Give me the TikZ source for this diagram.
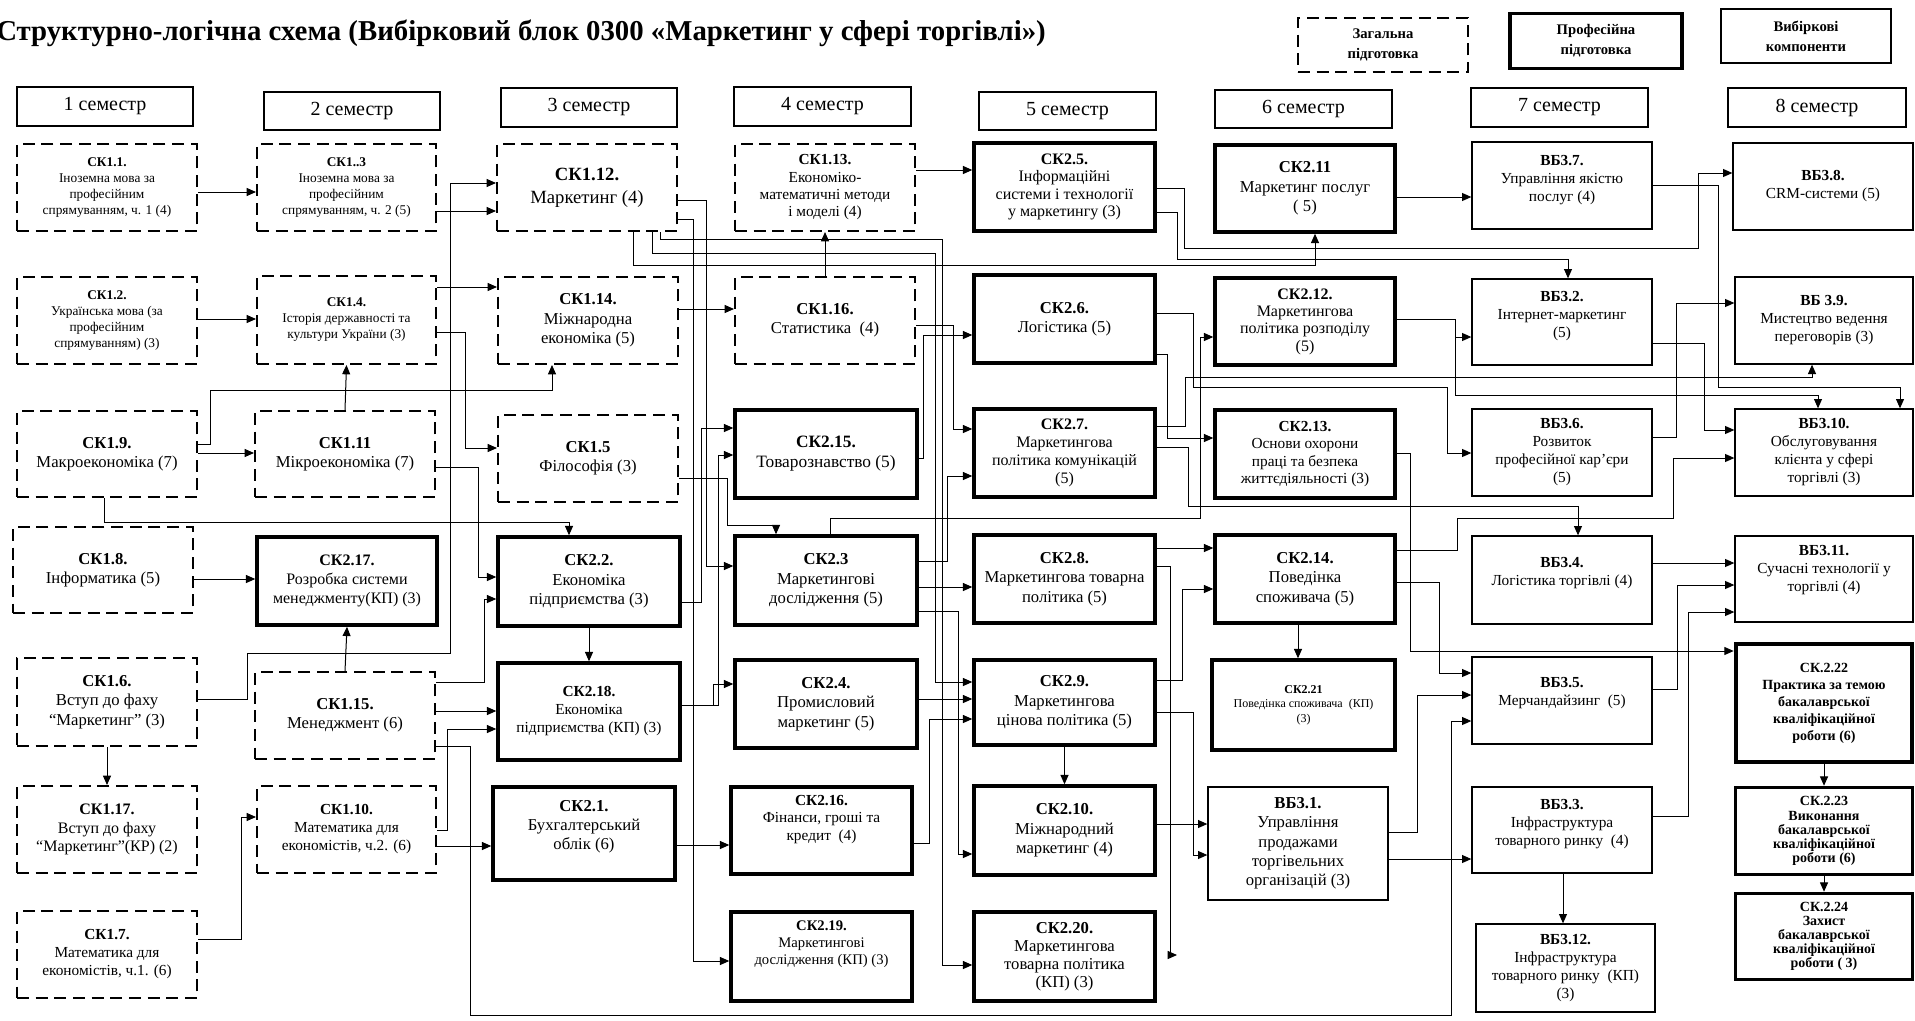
\documentclass[tikz,border=0pt]{standalone}
\usepackage{fontspec}
\setmainfont{Liberation Serif}
\usepackage{tikz}
\usetikzlibrary{arrows.meta}
\newcommand{\boxfont}[2]{\fontsize{#1}{#2}\selectfont}
\tikzset{
  gen/.style={draw, line width=1.5pt, dash pattern=on 9pt off 5pt, align=center, inner sep=0pt},  % general training
  prof/.style={draw, line width=2.6pt, align=center, inner sep=0pt},                              % professional training
  elect/.style={draw, line width=1pt, align=center, inner sep=0pt},                               % elective components
  sem/.style={draw, line width=0.9pt, inner sep=0pt, font=\boxfont{15}{17}},
  sz/.style 2 args={minimum width=#1*0.75pt, minimum height=#2*0.75pt},
  up/.style={text depth=#1},
  arr/.style={-{Triangle[length=7pt,width=6pt]}, line width=0.75pt},
}
\begin{document}
\begin{tikzpicture}[x=0.75pt,y=-0.75pt]
\useasboundingbox (0,0) rectangle (1915,1020);
\fill[white] (0,0) rectangle (1915,1020);

\node[anchor=west, inner sep=0pt, font=\boxfont{21.6}{25}\bfseries] (title) at (-4,33) {Структурно-логічна схема (Вибірковий блок 0300 «Маркетинг у сфері торгівлі»)};
\node[gen, sz={170}{54}, font=\boxfont{11}{15}\bfseries] (lgen) at (1383,45) {Загальна\\підготовка};
\node[prof, sz={172}{55}, font=\boxfont{11}{15}\bfseries] (lprof) at (1596,41) {Професійна\\підготовка};
\node[elect, sz={170}{54}, font=\boxfont{11}{15}\bfseries] (lsel) at (1806,36) {Вибіркові\\компоненти};

\node[sem, sz={176}{39}] (sem1) at (105,106.5) {1 семестр};
\node[sem, sz={176}{38}] (sem2) at (352,111) {2 семестр};
\node[sem, sz={176}{39}] (sem3) at (589,107.5) {3 семестр};
\node[sem, sz={177}{39}] (sem4) at (822.5,106.5) {4 семестр};
\node[sem, sz={177}{38}] (sem5) at (1067.5,111) {5 семестр};
\node[sem, sz={177}{38}] (sem6) at (1303.5,109) {6 семестр};
\node[sem, sz={177}{39}] (sem7) at (1559.5,107.5) {7 семестр};
\node[sem, sz={178}{39}] (sem8) at (1817,107.5) {8 семестр};

\node[gen, sz={180}{87}, font=\boxfont{10}{12}] (sk11) at (107,187.5) {\textbf{СК1.1.}\\Іноземна мова за\\професійним\\спрямуванням, ч. 1 (4)};
\node[gen, sz={180}{87}, font=\boxfont{10}{12}] (sk12) at (107,320.5) {\textbf{СК1.2.}\\Українська мова (за\\професійним\\спрямуванням) (3)};
\node[gen, sz={180}{86}, font=\boxfont{12.5}{14.5}] (sk19) at (107,454) {\textbf{СК1.9.}\\Макроекономіка (7)};
\node[gen, sz={180}{86}, font=\boxfont{12.5}{14.5}] (sk18) at (103,570) {\textbf{СК1.8.}\\Інформатика (5)};
\node[gen, sz={180}{88}, font=\boxfont{12.5}{14.5}] (sk16) at (107,702) {\textbf{СК1.6.}\\Вступ до фаху\\“Маркетинг” (3)};
\node[gen, sz={180}{87}, font=\boxfont{12}{14}] (sk117) at (107,829.5) {\textbf{СК1.17.}\\Вступ до фаху\\“Маркетинг”(КР) (2)};
\node[gen, sz={180}{87}, font=\boxfont{11.5}{13.5}] (sk17) at (107,954.5) {\textbf{СК1.7.}\\Математика для\\економістів, ч.1. (6)};

\node[gen, sz={179}{87}, font=\boxfont{10}{12}] (sk13) at (346.5,187.5) {\textbf{СК1..3}\\Іноземна мова за\\професійним\\спрямуванням, ч. 2 (5)};
\node[gen, sz={179}{88}, font=\boxfont{10}{12}] (sk14) at (346.5,320) {\textbf{СК1.4.}\\Історія державності та\\культури України (3)};
\node[gen, sz={180}{86}, font=\boxfont{12.5}{14.5}] (sk111) at (345,454) {\textbf{СК1.11}\\Мікроекономіка (7)};
\node[prof, sz={180}{88}, font=\boxfont{12}{14}] (sk217) at (347,581) {\textbf{СК2.17.}\\Розробка системи\\менеджменту(КП) (3)};
\node[gen, sz={180}{87}, font=\boxfont{12.5}{14.5}] (sk115) at (345,715.5) {\textbf{СК1.15.}\\Менеджмент (6)};
\node[gen, sz={179}{87}, font=\boxfont{11.5}{13.5}] (sk110) at (346.5,829.5) {\textbf{СК1.10.}\\Математика для\\економістів, ч.2. (6)};

\node[gen, sz={180}{87}, font=\boxfont{14}{17}] (sk112) at (587,187.5) {\textbf{СК1.12.}\\Маркетинг (4)};
\node[gen, sz={180}{87}, font=\boxfont{12.5}{14.5}] (sk114) at (588,320.5) {\textbf{СК1.14.}\\Міжнародна\\економіка (5)};
\node[gen, sz={180}{87}, font=\boxfont{12.5}{14.5}] (sk15) at (588,458.5) {\textbf{СК1.5}\\Філософія (3)};
\node[prof, sz={182}{89}, font=\boxfont{12.5}{14.5}] (sk22) at (589,581.5) {\textbf{СК2.2.}\\Економіка\\підприємства (3)};
\node[prof, sz={182}{97}, font=\boxfont{11.5}{13.5}] (sk218) at (589,711.5) {\textbf{СК2.18.}\\Економіка\\підприємства (КП) (3)};
\node[prof, sz={182}{93}, font=\boxfont{12.5}{14.5}, up=13pt] (sk21) at (584,833.5) {\textbf{СК2.1.}\\Бухгалтерський\\облік (6)};

\node[gen, sz={180}{87}, font=\boxfont{11.5}{13}] (sk113) at (825,187.5) {\textbf{СК1.13.}\\Економіко-\\математичні методи\\і моделі (4)};
\node[gen, sz={180}{87}, font=\boxfont{12.5}{14.5}] (sk116) at (825,320.5) {\textbf{СК1.16.}\\Статистика\ \ (4)};
\node[prof, sz={182}{88}, font=\boxfont{13}{15}] (sk215) at (826,454) {\textbf{СК2.15.}\\Товарознавство (5)};
\node[prof, sz={182}{89}, font=\boxfont{12.5}{14.5}] (sk23) at (826,580.5) {\textbf{СК2.3}\\Маркетингові\\дослідження (5)};
\node[prof, sz={182}{88}, font=\boxfont{12.5}{14.5}] (sk24) at (826,704) {\textbf{СК2.4.}\\Промисловий\\маркетинг (5)};
\node[prof, sz={181}{87}, font=\boxfont{11.5}{13}, up=19pt] (sk216) at (821.5,830.5) {\textbf{СК2.16.}\\Фінанси, гроші та\\кредит\ \ (4)};
\node[prof, sz={181}{89}, font=\boxfont{11}{12.5}, up=21pt] (sk219) at (821.5,956.5) {\textbf{СК2.19.}\\Маркетингові\\дослідження (КП) (3)};

\node[prof, sz={181}{88}, font=\boxfont{12}{13}] (sk25) at (1064.5,187) {\textbf{СК2.5.}\\Інформаційні\\системи і технології\\у маркетингу (3)};
\node[prof, sz={181}{88}, font=\boxfont{12.5}{14.5}] (sk26) at (1064.5,319) {\textbf{СК2.6.}\\Логістика (5)};
\node[prof, sz={181}{88}, font=\boxfont{12}{13.3}] (sk27) at (1064.5,453) {\textbf{СК2.7.}\\Маркетингова\\політика комунікацій\\(5)};
\node[prof, sz={181}{88}, font=\boxfont{12.5}{14.5}] (sk28) at (1064.5,579) {\textbf{СК2.8.}\\Маркетингова товарна\\політика (5)};
\node[prof, sz={181}{85}, font=\boxfont{12.5}{14.5}] (sk29) at (1064.5,702.5) {\textbf{СК2.9.}\\Маркетингова\\цінова політика (5)};
\node[prof, sz={181}{89}, font=\boxfont{12.5}{14.5}] (sk210) at (1064.5,830.5) {\textbf{СК2.10.}\\Міжнародний\\маркетинг (4)};
\node[prof, sz={181}{89}, font=\boxfont{12.5}{13.5}] (sk220) at (1064.5,956.5) {\textbf{СК2.20.}\\Маркетингова\\товарна політика\\(КП) (3)};

\node[prof, sz={180}{87}, font=\boxfont{12.5}{14.5}] (sk211) at (1305,188.5) {\textbf{СК2.11}\\Маркетинг послуг\\( 5)};
\node[prof, sz={180}{87}, font=\boxfont{12}{13}] (sk212) at (1305,321.5) {\textbf{СК2.12.}\\Маркетингова\\політика розподілу\\(5)};
\node[prof, sz={180}{88}, font=\boxfont{11.5}{13}] (sk213) at (1305,454) {\textbf{СК2.13.}\\Основи охорони\\праці та безпека\\життєдіяльності (3)};
\node[prof, sz={180}{88}, font=\boxfont{12.5}{14.5}] (sk214) at (1305,579) {\textbf{СК2.14.}\\Поведінка\\споживача (5)};
\node[prof, sz={183}{90}, font=\boxfont{9}{11}] (sk221) at (1303.5,705) {\textbf{СК2.21}\\Поведінка споживача\ \ (КП)\\(3)};
\node[elect, sz={180}{113}, font=\boxfont{12.5}{14.5}] (vb31) at (1298,843.5) {\textbf{ВБ3.1.}\\Управління\\продажами\\торгівельних\\організацій (3)};

\node[elect, sz={180}{87}, font=\boxfont{11.5}{13.5}, up=10.5pt] (vb37) at (1562,185.5) {\textbf{ВБ3.7.}\\Управління якістю\\послуг (4)};
\node[elect, sz={180}{86}, font=\boxfont{11.5}{13.5}, up=12pt] (vb32) at (1562,322) {\textbf{ВБ3.2.}\\Інтернет-маркетинг\\(5)};
\node[elect, sz={180}{87}, font=\boxfont{11.5}{13.5}] (vb36) at (1562,452.5) {\textbf{ВБ3.6.}\\Розвиток\\професійної кар’єри\\(5)};
\node[elect, sz={180}{88}, font=\boxfont{11.5}{13.5}, up=13.5pt] (vb34) at (1562,580) {\textbf{ВБ3.4.}\\Логістика торгівлі (4)};
\node[elect, sz={180}{87}, font=\boxfont{11.5}{13.5}, up=13.5pt] (vb35) at (1562,700.5) {\textbf{ВБ3.5.}\\Мерчандайзинг\ \ (5)};
\node[elect, sz={180}{86}, font=\boxfont{11.5}{13.5}, up=12pt] (vb33) at (1562,830) {\textbf{ВБ3.3.}\\Інфраструктура\\товарного ринку\ \ (4)};
\node[elect, sz={179}{88}, font=\boxfont{11.5}{13.5}] (vb312) at (1565.5,968) {\textbf{ВБ3.12.}\\Інфраструктура\\товарного ринку\ \ (КП)\\(3)};

\node[elect, sz={180}{87}, font=\boxfont{11.5}{13.5}] (vb38) at (1823,186.5) {\textbf{ВБ3.8.}\\CRM-системи (5)};
\node[elect, sz={178}{87}, font=\boxfont{11.5}{13.5}] (vb39) at (1824,320.5) {\textbf{ВБ 3.9.}\\Мистецтво ведення\\переговорів (3)};
\node[elect, sz={178}{87}, font=\boxfont{11.5}{13.5}] (vb310) at (1824,452.5) {\textbf{ВБ3.10.}\\Обслуговування\\клієнта у сфері\\торгівлі (3)};
\node[elect, sz={178}{86}, font=\boxfont{11.5}{13.5}, up=16.5pt] (vb311) at (1824,579) {\textbf{ВБ3.11.}\\Сучасні технології у\\торгівлі (4)};
\node[prof, line width=3.5pt, sz={176}{118}, font=\boxfont{10.5}{12.8}\bfseries] (sk222) at (1824,703) {СК.2.22\\Практика за темою\\бакалаврської\\кваліфікаційної\\роботи (6)};
\node[prof, sz={177}{87}, font=\boxfont{10.5}{10.6}\bfseries] (sk223) at (1824,831) {СК.2.23\\Виконання\\бакалаврської\\кваліфікаційної\\роботи (6)};
\node[prof, sz={177}{86}, font=\boxfont{10.5}{10.6}\bfseries] (sk224) at (1824,936.5) {СК.2.24\\Захист\\бакалаврської\\кваліфікаційної\\роботи ( 3)};

\coordinate (loose) at (1177,955);

\draw[arr] (sk11.east |- 0,192) -- (sk13.west |- 0,192);
\draw[arr] (sk12.east |- 0,319) -- (sk14.west |- 0,319);
\draw[arr] (sk19.east |- 0,453) -- (sk111.west |- 0,453);
\draw[arr] (sk18.east |- 0,579) -- (sk217.west |- 0,579);
\draw[arr] (sk16.south) -- (sk117.north);
\draw[arr] (sk17.east |- 0,939) -| (241,817) -- (sk110.west |- 0,817);
\draw[arr] (sk111.north) -- (sk14.south);
\draw[arr] (sk115.north) -- (sk217.south);
\draw[arr] (sk13.east |- 0,211) -- (sk112.west |- 0,211);
\draw[arr] (sk16.east |- 0,699) -| (247,653) -| (450,183) -- (sk112.west |- 0,183);
\draw[arr] (sk14.east |- 0,287) -- (sk114.west |- 0,287);
\draw[arr] (sk14.east |- 0,332) -| (465,448) -- (sk15.west |- 0,448);
\draw[arr] (sk19.east |- 0,444) -| (210,390) -| (sk114.south -| 552,0);
\draw[arr] (sk19.south -| 104,0) |- (569,522) -- (sk22.north -| 569,0);
\draw[arr] (sk111.east |- 0,467) -| (478,577) -- (sk22.west |- 0,577);
\draw[arr] (sk115.east |- 0,682) -| (484,599) -- (sk22.west |- 0,599);
\draw[arr] (sk115.east |- 0,711) -- (sk218.west |- 0,711);
\draw[arr] (sk110.east |- 0,830) -| (447,729) -- (sk218.west |- 0,729);
\draw[arr] (sk110.east |- 0,846) -- (sk21.west |- 0,846);
\draw[arr] (sk115.east |- 0,746) -| (470,1015) -| (1451,721) -- (vb35.west |- 0,721);
\draw[arr] (sk22.south) -- (sk218.north);
\draw[arr] (sk112.east |- 0,200) -| (706,566) -- (sk23.west |- 0,566);
\draw[arr] (sk112.east |- 0,219) -| (693,961) -- (sk219.west |- 0,961);
\draw[arr] (sk22.east |- 0,602) -| (701,428) -- (sk215.west |- 0,428);
\draw[arr] (sk218.east |- 0,705) -| (718,455) -- (sk215.west |- 0,455);
\draw[arr] (sk218.east |- 0,705) -| (713,684) -- (sk24.west |- 0,684);
\draw[arr] (sk15.east |- 0,478) -| (727,525) -| (sk23.north -| 776,0);
\draw[arr] (sk114.east |- 0,309) -- (sk116.west |- 0,309);
\draw[arr] (sk116.north) -- (sk113.south);
\draw[arr] (sk113.east |- 0,170) -- (sk25.west |- 0,170);
\draw[arr] (sk21.east |- 0,845) -- (sk216.west |- 0,845);
\draw[arr] (sk112.south -| 633,0) |- (1315,265) -- (sk211.south -| 1315,0);
\draw[arr] (sk112.south -| 652,0) |- (935,253) |- (sk29.west |- 0,682);
\draw[arr] (sk112.south -| 660,0) |- (942,239) |- (sk220.west |- 0,965);
\draw[arr] (sk116.east |- 0,325) -| (953,429) -- (sk27.west |- 0,429);
\draw[arr] (sk215.east |- 0,458) -| (923,335) -- (sk26.west |- 0,335);
\draw[arr] (sk23.east |- 0,561) -| (947,476) -- (sk27.west |- 0,476);
\draw[arr] (sk23.east |- 0,587) -- (sk28.west |- 0,587);
\draw[arr] (sk23.east |- 0,611) -| (958,854) -- (sk210.west |- 0,854);
\draw[arr] (sk24.east |- 0,699) -- (sk29.west |- 0,699);
\draw[arr] (sk216.east |- 0,843) -| (929,719) -- (sk29.west |- 0,719);
\draw[arr] (sk23.north -| 830,0) |- (1200,518) |- (sk212.west |- 0,337);
\draw[arr] (sk25.east |- 0,188) -| (1184,248) -| (1698,173) -- (vb38.west |- 0,173);
\draw[arr] (sk25.east |- 0,212) -| (1177,259) -| (vb32.north -| 1568,0);
\draw[arr] (sk211.east |- 0,197) -- (vb37.west |- 0,197);
\draw[arr] (sk26.east |- 0,313) -| (1193,387) -| (1447,453) -- (vb36.west |- 0,453);
\draw[arr] (sk26.east |- 0,354) -| (1167,438) -- (sk213.west |- 0,438);
\draw[arr] (sk212.east |- 0,319) -| (1455,337) -- (vb32.west |- 0,337);
\draw[arr] (sk212.east |- 0,319) -| (1455,395) -| (vb310.north -| 1818,0);
\draw[arr] (sk27.east |- 0,426) -| (1185,377) -| (vb39.south -| 1812,0);
\draw[arr] (sk27.east |- 0,447) -| (1188,506) -| (vb34.north -| 1578,0);
\draw[arr] (vb37.east |- 0,185) -| (1718,387) -| (vb310.north -| 1900,0);
\draw[arr] (vb32.east |- 0,343) -| (1704,430) -- (vb310.west |- 0,430);
\draw[arr] (vb36.east |- 0,437) -| (1676,303) -- (vb39.west |- 0,303);
\draw[arr] (sk214.east |- 0,550) -| (1457,518) -| (1673,458) -- (vb310.west |- 0,458);
\draw[arr] (sk214.east |- 0,582) -| (1439,673) -- (vb35.west |- 0,673);
\draw[arr] (sk213.east |- 0,453) -| (1410,651) -- (sk222.west |- 0,651);
\draw[arr] (sk28.east |- 0,548) -- (sk214.west |- 0,548);
\draw[arr] (sk29.east |- 0,680) -| (1182,589) -- (sk214.west |- 0,589);
\draw[arr] (sk28.east |- 0,566) -| (1170,955) -- (loose);
\draw[arr] (sk29.east |- 0,712) -| (1193,855) -- (vb31.west |- 0,855);
\draw[arr] (sk210.east |- 0,824) -- (vb31.west |- 0,824);
\draw[arr] (sk29.south) -- (sk210.north);
\draw[arr] (sk214.south -| 1298,0) -- (sk221.north -| 1298,0);
\draw[arr] (vb31.east |- 0,832) -| (1417,695) -- (vb35.west |- 0,695);
\draw[arr] (vb31.east |- 0,859) -- (vb33.west |- 0,859);
\draw[arr] (vb34.east |- 0,563) -- (vb311.west |- 0,563);
\draw[arr] (vb35.east |- 0,689) -| (1677,585) -- (vb311.west |- 0,585);
\draw[arr] (vb33.east |- 0,816) -| (1688,612) -- (vb311.west |- 0,612);
\draw[arr] (vb33.south -| 1563,0) -- (vb312.north -| 1563,0);
\draw[arr] (sk222.south) -- (sk223.north);
\draw[arr] (sk223.south) -- (sk224.north);
\end{tikzpicture}
\end{document}
